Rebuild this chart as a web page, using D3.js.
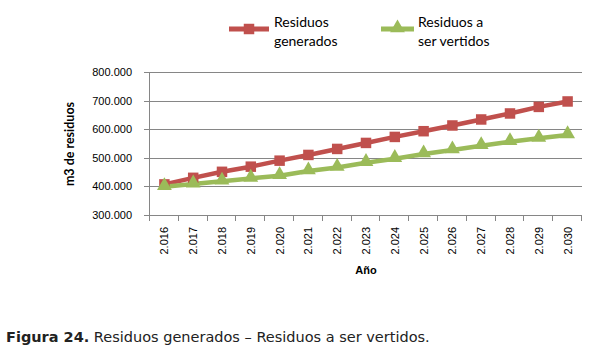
<!DOCTYPE html>
<html>
<head>
<meta charset="utf-8">
<script src="https://cdn.jsdelivr.net/npm/d3@7"></script>
<style>
  body { margin: 0; background: #fff; }
  svg { display: block; }
</style>
</head>
<body>
<svg id="chart" width="602" height="354"></svg>
<script>
// data
var years = ["2.016", "2.017", "2.018", "2.019", "2.020", "2.021", "2.022", "2.023",
    "2.024", "2.025", "2.026", "2.027", "2.028", "2.029", "2.030"]
var generados = [407000, 430000, 451000, 469000, 490000, 510000, 531000, 552000,
    573000, 593000, 613000, 634000, 655000, 678000, 697000]
var vertidos = [399000, 408000, 418000, 428000, 437000, 454000, 466000, 483000,
    497000, 513000, 527000, 542000, 556000, 568000, 580000]
var yTicks = [300000, 400000, 500000, 600000, 700000, 800000]
var seriesNames = [["Residuos", "generados"], ["Residuos a", "ser vertidos"]]

var red = "#C0504D"
var green = "#9BBB59"
var gridColor = "#868686"

var svg = d3.select("#chart")
var plotLeft = 150, plotRight = 582, plotTop = 72, plotBottom = 215

var x = d3.scaleBand().domain(years).range([plotLeft, plotRight])
var y = d3.scaleLinear().domain([300000, 800000]).range([plotBottom, plotTop])

var fmt = function(v) {
    return d3.format(",")(v).replace(/,/g, ".")
}

// gridlines
svg.append("g").selectAll("line").data(yTicks).enter().append("line")
    .attr("x1", plotLeft - 6).attr("x2", plotRight)
    .attr("y1", function(d) { return Math.round(y(d)) + 0.5 })
    .attr("y2", function(d) { return Math.round(y(d)) + 0.5 })
    .style("stroke", gridColor).style("stroke-width", 1)

// y axis line
svg.append("line")
    .attr("x1", plotLeft - 0.5).attr("x2", plotLeft - 0.5)
    .attr("y1", plotTop).attr("y2", plotBottom + 6)
    .style("stroke", gridColor)

// x ticks (category boundaries)
var bounds = years.map(function(d) { return x(d) }).concat([plotRight])
svg.append("g").selectAll("line").data(bounds.slice(1)).enter().append("line")
    .attr("x1", function(d) { return Math.round(d) - 0.5 })
    .attr("x2", function(d) { return Math.round(d) - 0.5 })
    .attr("y1", plotBottom).attr("y2", plotBottom + 6)
    .style("stroke", gridColor)

// y tick labels
svg.append("g").selectAll("text").data(yTicks).enter().append("text")
    .attr("x", 132).attr("y", function(d) { return y(d) + 4 })
    .attr("text-anchor", "end")
    .style("font-family", "Liberation Sans, Arial, sans-serif")
    .style("font-size", "11px").style("fill", "#000")
    .text(fmt)

// x tick labels, rotated
svg.append("g").selectAll("text").data(years).enter().append("text")
    .attr("transform", function(d) {
        return "translate(" + (x(d) + x.bandwidth() / 2 + 4) + "," + (plotBottom + 12) + ") rotate(-90)"
    })
    .attr("text-anchor", "end")
    .style("font-family", "Liberation Sans, Arial, sans-serif")
    .style("font-size", "11px").style("fill", "#000")
    .text(function(d) { return d })

// axis titles
svg.append("text")
    .attr("transform", "translate(74," + 144 + ") rotate(-90)")
    .attr("text-anchor", "middle")
    .style("font-family", "Lato, Open Sans, sans-serif")
    .style("font-size", "12.5px").style("font-weight", "bold")
    .text("m3 de residuos")

svg.append("text")
    .attr("x", (plotLeft + plotRight) / 2).attr("y", 274)
    .attr("text-anchor", "middle")
    .style("font-family", "Liberation Sans, Arial, sans-serif")
    .style("font-size", "11px").style("font-weight", "bold")
    .text("Año")

// lines
var line = d3.line()
    .x(function(d, i) { return x(years[i]) + x.bandwidth() / 2 })
    .y(function(d) { return y(d) })

svg.append("path").datum(generados).attr("d", line)
    .style("fill", "none").style("stroke", red).style("stroke-width", 4.5)
svg.append("path").datum(vertidos).attr("d", line)
    .style("fill", "none").style("stroke", green).style("stroke-width", 4.5)

var square = d3.symbol().type(d3.symbolSquare).size(110)
var triangle = d3.symbol().type(d3.symbolTriangle).size(95)

svg.append("g").selectAll("path").data(generados).enter().append("path")
    .attr("d", square)
    .attr("transform", function(d, i) {
        return "translate(" + (x(years[i]) + x.bandwidth() / 2) + "," + y(d) + ")"
    })
    .style("fill", red)

svg.append("g").selectAll("path").data(vertidos).enter().append("path")
    .attr("d", triangle)
    .attr("transform", function(d, i) {
        return "translate(" + (x(years[i]) + x.bandwidth() / 2) + "," + (y(d) - 1) + ")"
    })
    .style("fill", green)

// legend
var legend = [
    { x: 229, color: red, marker: square, name: seriesNames[0] },
    { x: 381, color: green, marker: triangle, name: seriesNames[1] }
]
var lg = svg.append("g").selectAll("g").data(legend).enter().append("g")
lg.append("line")
    .attr("x1", function(d) { return d.x })
    .attr("x2", function(d) { return d.x + (d.color == red ? 40 : 33) })
    .attr("y1", 29).attr("y2", 29)
    .style("stroke", function(d) { return d.color }).style("stroke-width", 5)
lg.append("path")
    .attr("d", function(d) { return d.marker() })
    .attr("transform", function(d) {
        return "translate(" + (d.x + (d.color == red ? 20 : 16.5)) + "," + (d.color == red ? 29 : 28) + ")"
    })
    .style("fill", function(d) { return d.color })
var lt = lg.append("text")
    .style("font-family", "Lato, Open Sans, sans-serif")
    .style("font-size", "14px").style("fill", "#000")
lt.append("tspan")
    .attr("x", function(d) { return d.x + (d.color == red ? 45 : 37) })
    .attr("y", 27)
    .text(function(d) { return d.name[0] })
lt.append("tspan")
    .attr("x", function(d) { return d.x + (d.color == red ? 45 : 37) })
    .attr("y", 46)
    .text(function(d) { return d.name[1] })

// caption
var cap = svg.append("text")
    .attr("x", 6).attr("y", 342)
    .style("font-family", "DejaVu Sans, sans-serif")
    .style("font-size", "14.5px").style("fill", "#222")
cap.append("tspan").style("font-weight", "bold").text("Figura 24.")
cap.append("tspan").text(" Residuos generados – Residuos a ser vertidos.")
</script>
</body>
</html>
